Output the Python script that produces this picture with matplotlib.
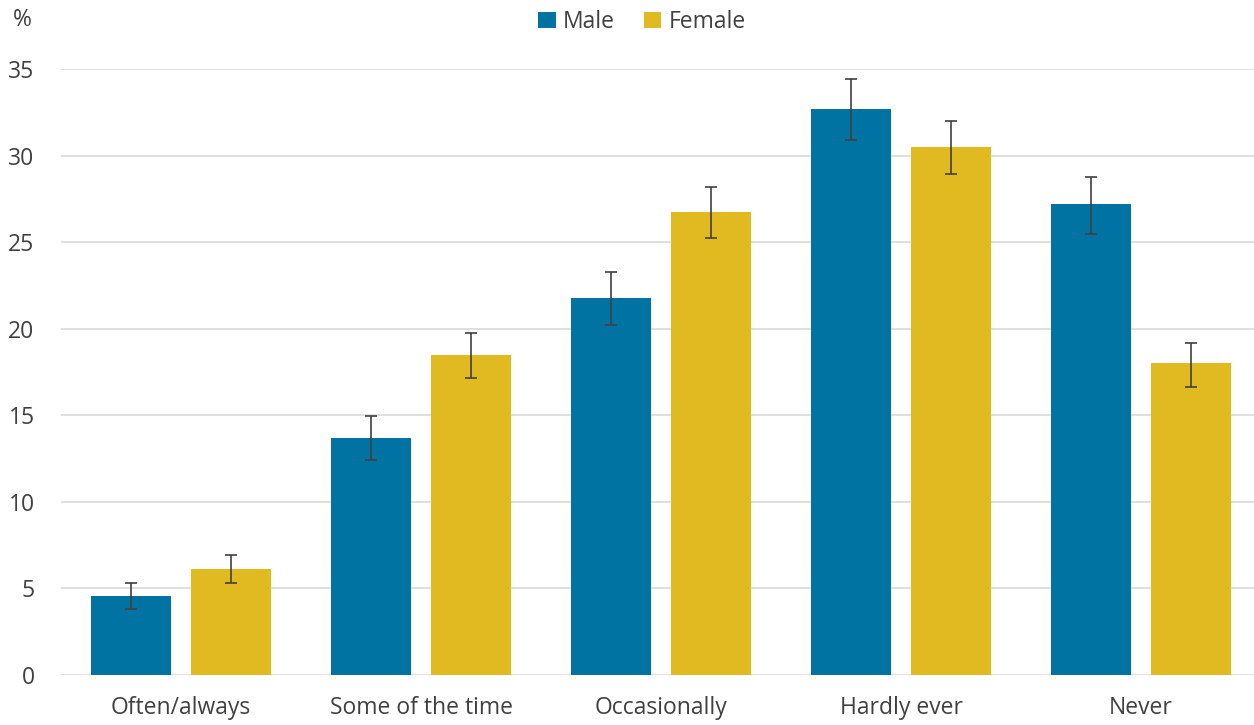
import matplotlib
matplotlib.use("Agg")
import matplotlib.pyplot as plt
import numpy as np

categories = ["Often/always", "Some of the time", "Occasionally", "Hardly ever", "Never"]
male = [4.55, 13.7, 21.8, 32.7, 27.2]
female = [6.15, 18.5, 26.75, 30.5, 18.0]
male_low = [3.8, 12.4, 20.2, 30.9, 25.45]
male_high = [5.33, 14.95, 23.3, 34.4, 28.75]
female_low = [5.33, 17.15, 25.25, 28.94, 16.65]
female_high = [6.93, 19.75, 28.2, 32.0, 19.2]

plt.rcParams['font.family'] = ['Open Sans', 'DejaVu Sans']

W, H = 1254, 725
fig = plt.figure(figsize=(W / 100, H / 100), dpi=100)
ax = fig.add_axes([61 / W, (H - 675) / H, 1200 / W, 606 / H])

male_c = '#0073A2'
female_c = '#E1BA22'
x = np.arange(len(categories))
bw = 0.33
off = 0.208

m = np.array(male); f = np.array(female)
merr = [m - np.array(male_low), np.array(male_high) - m]
ferr = [f - np.array(female_low), np.array(female_high) - f]

ax.bar(x - off, m, bw, color=male_c, label='Male', zorder=2)
ax.bar(x + off, f, bw, color=female_c, label='Female', zorder=2)
ax.errorbar(x - off, m, yerr=merr, fmt='none', ecolor='#404040', elinewidth=1.2, capsize=4, capthick=1.2, zorder=3)
ax.errorbar(x + off, f, yerr=ferr, fmt='none', ecolor='#404040', elinewidth=1.2, capsize=4, capthick=1.2, zorder=3)

ax.set_xlim(-0.5, len(categories) - 0.5)
ax.set_ylim(0, 35)
ax.set_yticks(range(0, 36, 5))
ax.yaxis.grid(True, color='#D9D9D9', linewidth=1.2, zorder=0)
ax.set_axisbelow(True)
for s in ax.spines.values():
    s.set_visible(False)
ax.tick_params(axis='both', length=0, labelsize=16.5, labelcolor='#404040')
ax.tick_params(axis='y', pad=19)
ax.tick_params(axis='x', pad=15)
ax.set_xticks(x)
ax.set_xticklabels(categories)

fig.text(22 / W, 1 - 20 / H, '%', fontsize=16.5, color='#404040', ha='center', va='center')

ax.legend(loc='center', bbox_to_anchor=(642 / W, 1 - 22 / H), bbox_transform=fig.transFigure,
          ncol=2, frameon=False, fontsize=16.5, handlelength=0.75, handleheight=0.75,
          handletextpad=0.3, columnspacing=1.3, labelcolor='#404040')

fig.savefig('out.png', dpi=100)
